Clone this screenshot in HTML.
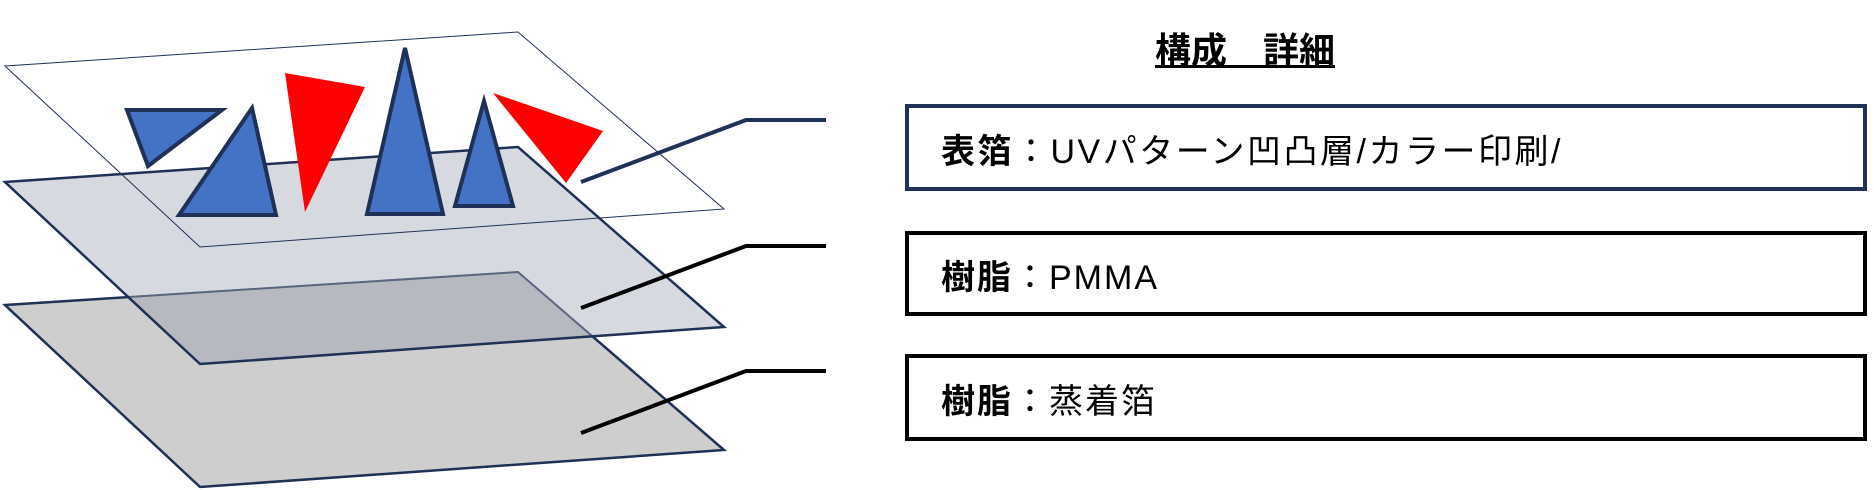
<!DOCTYPE html>
<html><head><meta charset="utf-8"><style>
html,body{margin:0;padding:0;background:#fff;width:1874px;height:490px;overflow:hidden}
.t{position:absolute;font-family:"Liberation Sans","Noto Sans CJK JP",sans-serif;color:#000;white-space:nowrap}
.box{position:absolute;left:905px;width:962px;box-sizing:border-box;border:4px solid #000}
</style></head><body>
<svg width="1874" height="490" style="position:absolute;left:0;top:0">
<defs>
<clipPath id="cm"><polygon points="5,182 518,147 724,327 200,364"/></clipPath>
</defs>
<polygon points="5,305 518,272 724,450 200,487" fill="#cecece" stroke="#1f3157" stroke-width="2.5"/>
<polygon points="5,182 518,147 724,327 200,364" fill="#d6d9df"/>
<polygon points="5,305 518,272 724,450 200,487" fill="#b6b9bf" clip-path="url(#cm)"/>
<polygon points="5,305 518,272 724,450 200,487" fill="none" stroke="#5a6580" stroke-width="2" clip-path="url(#cm)"/>
<polygon points="5,182 518,147 724,327 200,364" fill="none" stroke="#1f3157" stroke-width="2.5"/>
<polygon points="5,66 518,32 724,209 200,247" fill="none" stroke="#1f3157" stroke-width="1"/>
<g fill="#4472c4" stroke="#1f3157" stroke-width="4" stroke-linejoin="miter">
<polygon points="127,110 222,110 148,166"/>
<polygon points="252,108 276,215 179,215"/>
<polygon points="405,48 443,214 367,214"/>
<polygon points="484,101 513,206 455,206"/>
</g>
<polygon points="285,73 365,87 305,212" fill="#ff0000"/>
<polygon points="493,93 603,131 566,183" fill="#ff0000"/>
<polyline points="581,182 746,120 826,120" fill="none" stroke="#1f3157" stroke-width="4"/>
<polyline points="581,308 746,246 826,246" fill="none" stroke="#000" stroke-width="4"/>
<polyline points="581,433 746,371 826,371" fill="none" stroke="#000" stroke-width="4"/>
</svg>
<div class="t" style="left:1155px;top:22px;font-size:36px;font-weight:bold;text-decoration:underline">構成　詳細</div>
<div class="box" style="top:104px;height:87px;border-color:#1f3157"></div>
<div class="box" style="top:231px;height:85px"></div>
<div class="box" style="top:354px;height:87px"></div>
<div class="t" style="left:941px;top:124px;font-size:34px;letter-spacing:2.5px"><b>表箔</b>：UVパターン凹凸層/カラー印刷/</div>
<div class="t" style="left:941px;top:250px;font-size:34px;letter-spacing:2px"><b>樹脂</b>：PMMA</div>
<div class="t" style="left:941px;top:374px;font-size:34px;letter-spacing:2px"><b>樹脂</b>：蒸着箔</div>
</body></html>
